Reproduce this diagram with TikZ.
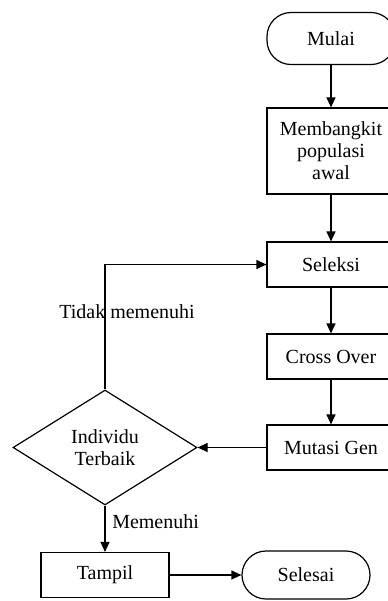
\documentclass[tikz,border=0pt]{standalone}
\usepackage{fontspec}
\setmainfont{Liberation Serif}
\usetikzlibrary{shapes.geometric,arrows.meta,positioning}

\begin{document}
\begin{tikzpicture}[x=0.5pt,y=-0.5pt,->,>={Triangle[length=5pt,width=4.5pt]},line width=0.6pt,font=\fontsize{10}{11}\selectfont,
    proses/.style={rectangle,draw,minimum width=64pt,minimum height=22.5pt,align=center,inner sep=2pt},
    terminal/.style={rectangle,rounded corners=12pt,draw,minimum width=64pt,minimum height=26pt},
    keputusan/.style={diamond,aspect=1.6,draw,minimum width=92pt,minimum height=57.5pt,inner sep=0pt,align=center}]

            \useasboundingbox (0,0) rectangle (387,601);

            \node[terminal] (mulai) at (331,38.5) {Mulai};
            \node[proses,minimum height=43pt] (bangkit) [below of = mulai, node distance=56.25pt] {Membangkit\\populasi\\awal};
            \node[proses] (seleksi) [below of = bangkit, node distance=56.75pt] {Seleksi};
            \node[proses] (cross) [below of = seleksi, node distance=46pt] {Cross Over};
            \node[proses] (mutasi) [below of = cross, node distance=45.5pt] {Mutasi Gen};
            \node[keputusan] (terbaik) [left of = mutasi, node distance=113pt] {Individu\\Terbaik};
            \node[proses] (tampil) [below of = terbaik, node distance=63.75pt] {Tampil};
            \node[terminal,minimum height=24pt] (selesai) [right of = tampil, node distance=100.5pt] {Selesai};

            \draw (mulai) -- (bangkit);
            \draw (bangkit) -- (seleksi);
            \draw (seleksi) -- (cross);
            \draw (cross) -- (mutasi);
            \draw (mutasi) -- (terbaik);
            \draw (terbaik) |- node[pos=0.31,xshift=11pt]{Tidak memenuhi} (seleksi);
            \draw (terbaik) -- node[pos=0.35,right]{Memenuhi} (tampil);
            \draw (tampil) -- (selesai);

        \end{tikzpicture}
\end{document}
